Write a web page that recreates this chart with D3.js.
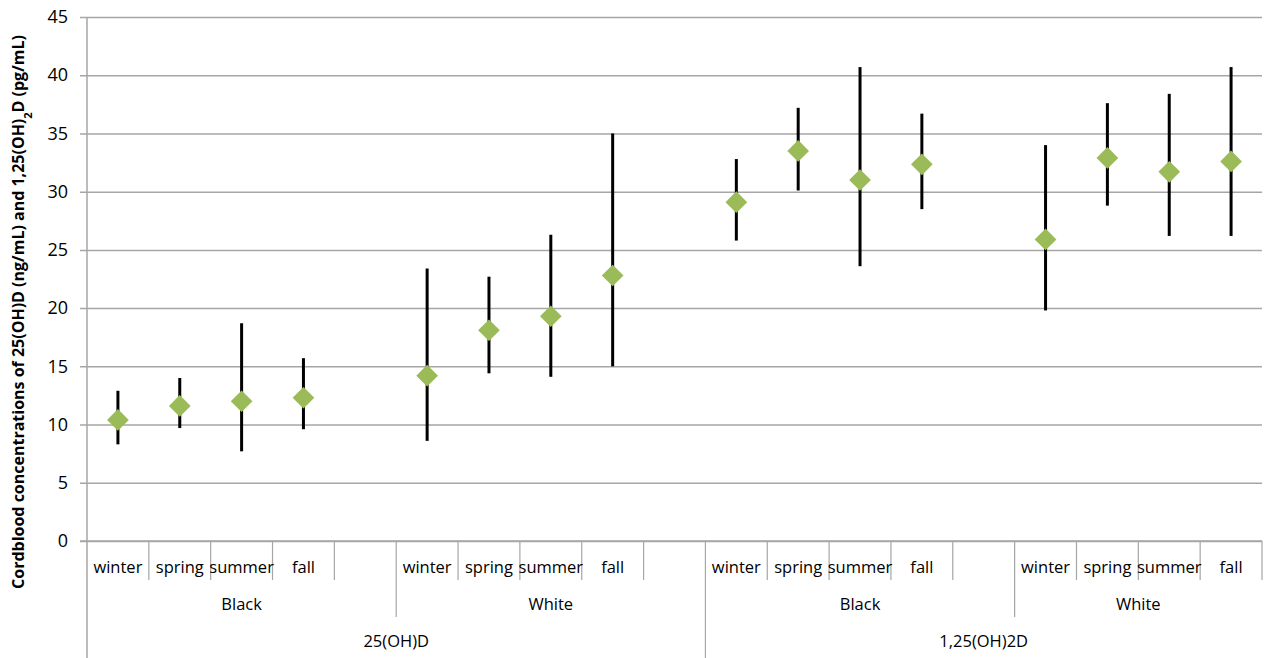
<!DOCTYPE html>
<html>
<head>
<meta charset="utf-8">
<script src="https://cdn.jsdelivr.net/npm/d3@7"></script>
<style>
  body { margin: 0; background: #fff; }
  text { font-family: "Open Sans", "Liberation Sans", sans-serif; fill: #000; }
</style>
</head>
<body>
<div id="chart"></div>
<script>
var seasons = ['winter', 'spring', 'summer', 'fall']
var races = ['Black', 'White']
var analytes = ['25(OH)D', '1,25(OH)2D']
var means = [10.4, 11.6, 12.0, 12.3, 14.2, 18.1, 19.3, 22.8, 29.1, 33.5, 31.0, 32.35, 25.9, 32.9, 31.7, 32.6]
var highs = [12.9, 14.0, 18.7, 15.7, 23.4, 22.7, 26.3, 35.0, 32.8, 37.2, 40.7, 36.7, 34.0, 37.6, 38.4, 40.7]
var lows  = [8.3, 9.7, 7.7, 9.6, 8.6, 14.4, 14.1, 15.0, 25.8, 30.1, 23.6, 28.5, 19.8, 28.8, 26.2, 26.2]
var yTicks = [0, 5, 10, 15, 20, 25, 30, 35, 40, 45]

var width = 1269
var height = 658
var margin = {left: 87, right: 7, top: 17, bottom: 117}

// category slots: 4 seasons per race group, with an empty slot between groups
var slots = []
var points = []
var k = 0
analytes.forEach(function(a, ai) {
  races.forEach(function(r, ri) {
    seasons.forEach(function(s) {
      slots.push({id: slots.length, season: s, race: r, analyte: a})
      points.push({slot: slots.length - 1, mean: means[k], lo: lows[k], hi: highs[k]})
      k++
    })
    if (!(ai == analytes.length - 1 && ri == races.length - 1)) {
      slots.push({id: slots.length, season: '', race: r, analyte: a})
    }
  })
})

var svg = d3.select('#chart').append('svg')
  .attr('width', width)
  .attr('height', height)

var x = d3.scaleBand()
  .domain(slots.map(function(d) { return d.id }))
  .range([margin.left, width - margin.right])

var y = d3.scaleLinear()
  .domain([0, 45])
  .range([height - margin.bottom, margin.top])

var y0 = y(0)

// gridlines + y axis
var yAxis = d3.axisLeft(y).tickValues(yTicks).tickSize(-(width - margin.right - margin.left)).tickPadding(19)
var gy = svg.append('g')
  .attr('transform', 'translate(' + margin.left + ',0)')
  .call(yAxis)
gy.select('.domain').remove()
gy.selectAll('.tick line')
  .attr('x1', -7)
  .attr('stroke', '#a6a6a6')
  .attr('stroke-width', 1.5)
gy.selectAll('.tick text')
  .style('font-size', '18px')
  .attr('fill', '#000')

// vertical axis line
svg.append('line')
  .attr('x1', margin.left).attr('x2', margin.left)
  .attr('y1', margin.top).attr('y2', height)
  .attr('stroke', '#a6a6a6').attr('stroke-width', 1.5)

// category dividers
var bw = x.bandwidth()
slots.forEach(function(d, i) {
  if (i == 0) return
  var prev = slots[i - 1]
  var len = 39
  if (prev.analyte != d.analyte) len = height - y0
  else if (prev.race != d.race) len = 76
  svg.append('line')
    .attr('x1', x(d.id)).attr('x2', x(d.id))
    .attr('y1', y0).attr('y2', y0 + len)
    .attr('stroke', '#a6a6a6').attr('stroke-width', 1.2)
})
svg.append('line')
  .attr('x1', width - margin.right).attr('x2', width - margin.right)
  .attr('y1', y0).attr('y2', y0 + 39)
  .attr('stroke', '#a6a6a6').attr('stroke-width', 1.2)

// season labels
svg.append('g').selectAll('text')
  .data(slots.filter(function(d) { return d.season != '' }))
  .enter().append('text')
  .attr('x', function(d) { return x(d.id) + bw / 2 })
  .attr('y', y0 + 32)
  .attr('text-anchor', 'middle')
  .style('font-size', '16.5px')
  .text(function(d) { return d.season })

// race + analyte labels
var raceGroups = d3.groups(slots, function(d) { return d.analyte + '|' + d.race })
raceGroups.forEach(function(g) {
  var ids = g[1].map(function(d) { return d.id })
  var x1 = x(ids[0]), x2 = x(ids[ids.length - 1]) + bw
  svg.append('text')
    .attr('x', (x1 + x2) / 2).attr('y', y0 + 69)
    .attr('text-anchor', 'middle')
    .style('font-size', '16.5px')
    .text(g[1][0].race)
})
var anGroups = d3.groups(slots, function(d) { return d.analyte })
anGroups.forEach(function(g) {
  var ids = g[1].map(function(d) { return d.id })
  var x1 = x(ids[0]), x2 = x(ids[ids.length - 1]) + bw
  svg.append('text')
    .attr('x', (x1 + x2) / 2).attr('y', y0 + 106)
    .attr('text-anchor', 'middle')
    .style('font-size', '16.5px')
    .text(g[0])
})

// axis line at 0
svg.append('line')
  .attr('x1', margin.left - 7).attr('x2', width - margin.right)
  .attr('y1', y0).attr('y2', y0)
  .attr('stroke', '#a6a6a6').attr('stroke-width', 1.5)

// error bars
svg.append('g').selectAll('line')
  .data(points)
  .enter().append('line')
  .attr('x1', function(d) { return x(d.slot) + bw / 2 })
  .attr('x2', function(d) { return x(d.slot) + bw / 2 })
  .attr('y1', function(d) { return y(d.hi) })
  .attr('y2', function(d) { return y(d.lo) })
  .attr('stroke', '#000')
  .attr('stroke-width', 3)

// diamonds
var sym = d3.symbol().type(d3.symbolDiamond2).size(300)
svg.append('g').selectAll('path')
  .data(points)
  .enter().append('path')
  .attr('d', sym)
  .attr('transform', function(d) { return 'translate(' + (x(d.slot) + bw / 2) + ',' + y(d.mean) + ')' })
  .attr('fill', '#9bbb59')

// y title
var title = svg.append('text')
  .attr('transform', 'translate(24,' + 312 + ') rotate(-90)')
  .attr('text-anchor', 'middle')
  .style('font-size', '16px')
  .style('font-weight', 'bold')
title.append('tspan').text('Cordblood concentrations of 25(OH)D (ng/mL) and  1,25(OH)')
title.append('tspan').attr('baseline-shift', 'sub').style('font-size', '11px').text('2')
title.append('tspan').text('D (pg/mL)')
</script>
</body>
</html>
